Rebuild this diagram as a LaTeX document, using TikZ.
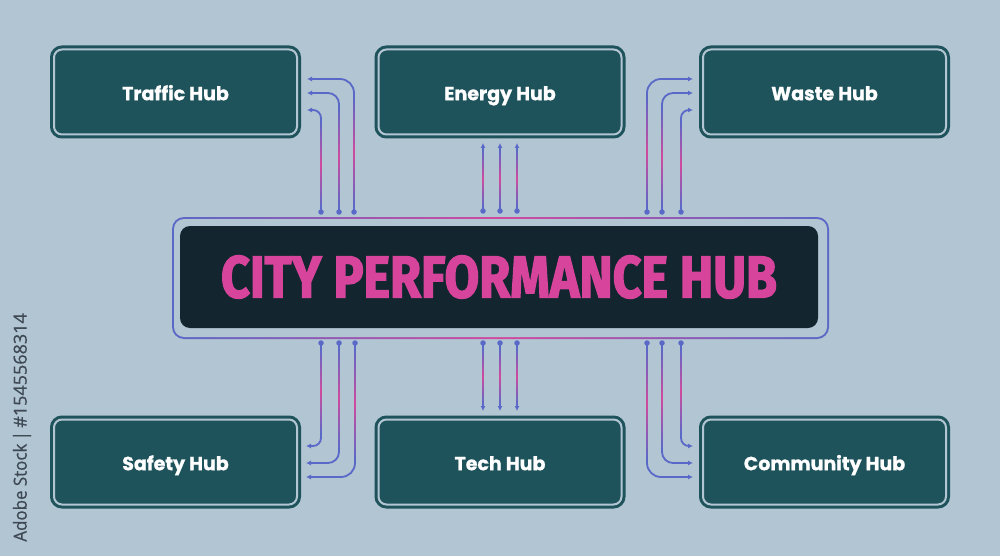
\documentclass[tikz,border=0pt]{standalone}
\usepackage{fontspec}
\usepackage{graphicx}
\usetikzlibrary{arrows.meta}
\newfontfamily\hubfont{Poppins}[BoldFeatures={FakeBold=1}]
\newfontfamily\titlefont{Fira Sans}[BoldFeatures={FakeBold=2.5}]
\newfontfamily\wmfont{Open Sans}[FakeBold=0.6]
\definecolor{bgc}{HTML}{B1C5D3}
\definecolor{tealc}{HTML}{1F535B}
\definecolor{darkc}{HTML}{13262F}
\definecolor{lineblue}{HTML}{5A68C7}
\definecolor{linemag}{HTML}{D04A9E}
\definecolor{titlemag}{HTML}{D6449B}
\definecolor{wmc}{HTML}{3E4953}
\newcommand\vgrad[3]{\shade[top color=lineblue,bottom color=lineblue,middle color=linemag] (#1-0.9,#2) rectangle (#1+0.9,#3);}
\begin{document}
\begin{tikzpicture}[x=1pt,y=-1pt,
  hubbox/.style={draw=tealc, fill=tealc, double=bgc, double distance=2pt, line width=3pt,
    rounded corners=8pt, minimum width=243pt, minimum height=85pt, inner sep=0pt,
    text height=16.4pt, text depth=0pt,
    text=white, font=\hubfont\bfseries\fontsize{19}{22}\selectfont},
  conn/.style={draw=lineblue, line width=1.8pt, -{Latex[length=5pt,width=5pt]}},
  dotc/.style={fill=lineblue, circle, inner sep=0pt, minimum size=5.5pt}
]
\fill[bgc] (0,0) rectangle (1000,556);
\useasboundingbox (0,0) rectangle (1000,556);

% watermark side text
\node[rotate=90, anchor=east, text=wmc, inner sep=0pt, font=\wmfont\fontsize{18}{20}\selectfont] (wm) at (22,313) {\scalebox{0.94}[1]{Adobe Stock}\,|\,\#1545568314};

% hubs
\node[hubbox] (traffic) at (175.5,92) {Traffic Hub};
\node[hubbox] (energy) at (500,92) {Energy Hub};
\node[hubbox] (waste) at (824.5,92) {Waste Hub};
\node[hubbox] (safety) at (175.5,462) {Safety Hub};
\node[hubbox] (tech) at (500,462) {Tech Hub};
\node[hubbox] (community) at (824.5,462) {Community Hub};

% central hub frame
\shade[left color=lineblue, right color=lineblue, middle color=linemag, rounded corners=12pt] (172,217) rectangle (829,339);
\fill[bgc, rounded corners=10pt] (174,219) rectangle (827,337);
\node[fill=darkc, rounded corners=10pt, minimum width=638pt, minimum height=102pt, inner sep=0pt] (city) at (499,277)
  {\textcolor{titlemag}{\resizebox{556pt}{42pt}{\titlefont\bfseries CITY PERFORMANCE HUB}}};

% connector coordinates
\coordinate (t1d) at (321,212); \coordinate (t1e) at (307,110);
\coordinate (t2d) at (339,212); \coordinate (t2e) at (307,93);
\coordinate (t3d) at (354,212); \coordinate (t3e) at (307,79);
\coordinate (e1d) at (483,211); \coordinate (e1e) at (483,143);
\coordinate (e2d) at (500,211); \coordinate (e2e) at (500,143);
\coordinate (e3d) at (517,211); \coordinate (e3e) at (517,143);
\coordinate (w1d) at (647,212); \coordinate (w1e) at (693,79);
\coordinate (w2d) at (662,212); \coordinate (w2e) at (693,93);
\coordinate (w3d) at (681,212); \coordinate (w3e) at (693,110);
\coordinate (s1d) at (321,343); \coordinate (s1e) at (306,446);
\coordinate (s2d) at (339,343); \coordinate (s2e) at (306,463);
\coordinate (s3d) at (355,343); \coordinate (s3e) at (306,477);
\coordinate (h1d) at (483,343); \coordinate (h1e) at (483,411);
\coordinate (h2d) at (500,343); \coordinate (h2e) at (500,411);
\coordinate (h3d) at (517,343); \coordinate (h3e) at (517,411);
\coordinate (c1d) at (681,343); \coordinate (c1e) at (693,446);
\coordinate (c2d) at (662,343); \coordinate (c2e) at (693,463);
\coordinate (c3d) at (647,343); \coordinate (c3e) at (693,477);

% traffic connectors
\draw[conn, rounded corners=8pt] (t1d) |- (t1e);
\draw[conn, rounded corners=11pt] (t2d) |- (t2e);
\draw[conn, rounded corners=14pt] (t3d) |- (t3e);
\vgrad{321}{122}{207}\vgrad{339}{108}{207}\vgrad{354}{97}{207}
% energy connectors
\draw[conn] (e1d) -- (e1e);
\draw[conn] (e2d) -- (e2e);
\draw[conn] (e3d) -- (e3e);
\vgrad{483}{150}{207}\vgrad{500}{150}{207}\vgrad{517}{150}{207}
% waste connectors
\draw[conn, rounded corners=14pt] (w1d) |- (w1e);
\draw[conn, rounded corners=11pt] (w2d) |- (w2e);
\draw[conn, rounded corners=8pt] (w3d) |- (w3e);
\vgrad{647}{97}{207}\vgrad{662}{108}{207}\vgrad{681}{122}{207}
% safety connectors
\draw[conn, rounded corners=8pt] (s1d) |- (s1e);
\draw[conn, rounded corners=11pt] (s2d) |- (s2e);
\draw[conn, rounded corners=14pt] (s3d) |- (s3e);
\vgrad{321}{348}{434}\vgrad{339}{348}{448}\vgrad{355}{348}{459}
% tech connectors
\draw[conn] (h1d) -- (h1e);
\draw[conn] (h2d) -- (h2e);
\draw[conn] (h3d) -- (h3e);
\vgrad{483}{348}{404}\vgrad{500}{348}{404}\vgrad{517}{348}{404}
% community connectors
\draw[conn, rounded corners=8pt] (c1d) |- (c1e);
\draw[conn, rounded corners=11pt] (c2d) |- (c2e);
\draw[conn, rounded corners=14pt] (c3d) |- (c3e);
\vgrad{681}{348}{434}\vgrad{662}{348}{448}\vgrad{647}{348}{459}

% dots
\foreach \d in {t1d,t2d,t3d,e1d,e2d,e3d,w1d,w2d,w3d,s1d,s2d,s3d,h1d,h2d,h3d,c1d,c2d,c3d}
  \node[dotc] at (\d) {};
\end{tikzpicture}
\end{document}
